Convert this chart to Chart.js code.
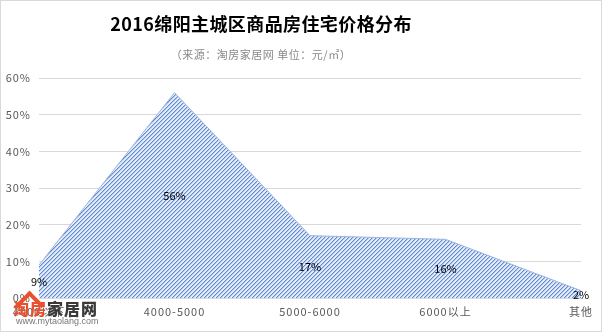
<!DOCTYPE html>
<html>
<head>
<meta charset="utf-8">
<script src="https://cdn.jsdelivr.net/npm/chart.js@4"></script>
<style>
  html, body { margin: 0; padding: 0; background: #fff; }
  #wrap { position: relative; width: 602px; height: 332px; box-sizing: border-box; border: 1px solid #d9d9d9; overflow: hidden; }
  #chart { position: absolute; left: 0; top: 0; }
  .title { position: absolute; left: 0; width: 520px; text-align: center; font-family: "Microsoft YaHei", "Noto Sans CJK SC", sans-serif; }
  #t1 { top: 9px; font-size: 18px; font-weight: bold; color: #000; letter-spacing: 0.4px; }
  #t2 { top: 45px; font-size: 11px; color: #888; letter-spacing: 0.5px; }
  #roof { position: absolute; left: 18px; top: 294px; width: 17px; height: 17px; border-top: 4px solid #e8502e; border-left: 4px solid #e8502e; transform: rotate(45deg); }
  #wm { position: absolute; left: 12px; top: 299px; font-family: "Noto Sans CJK SC", sans-serif; }
  #wm .logo { font-size: 16px; font-weight: 900; line-height: 17px; letter-spacing: 1px; }
  #wm .red { color: #e8502e; }
  #wm .dark { color: #3a3a3a; }
  #wm .url { font-family: "Liberation Sans", sans-serif; font-size: 9px; color: #777; line-height: 9px; margin-left: 3px; }
</style>
</head>
<body>
<div id="wrap">
  <canvas id="chart" width="600" height="330"></canvas>
  <div class="title" id="t1">2016绵阳主城区商品房住宅价格分布</div>
  <div class="title" id="t2">（来源：淘房家居网 单位：元/㎡）</div>
  <div id="roof"></div>
  <div id="wm"><div class="logo"><span class="red">淘房</span><span class="dark">家居网</span></div><div class="url">www.mytaolang.com</div></div>
</div>
<script>
// Data
const categories = ['4000以下', '4000-5000', '5000-6000', '6000以上', '其他'];
const shares = [9, 56, 17, 16, 2];
const yTicks = [0, 10, 20, 30, 40, 50, 60];

// Hatch pattern (upward diagonal)
function makeHatch() {
    const c = document.createElement('canvas');
    c.width = 4; c.height = 4;
    const g = c.getContext('2d');
    g.fillStyle = '#e3ebf8';
    g.fillRect(0, 0, 4, 4);
    for (let i = 0; i < 4; i++) {
        g.fillStyle = '#5e8ad4';
        g.fillRect(3 - i, i, 1, 1);
        g.fillStyle = '#b3c7ea';
        g.fillRect((4 - i) % 4, i, 1, 1);
    }
    return g.createPattern(c, 'repeat');
}

// Labels at half the value height
const midLabels = {
    id: 'midLabels',
    afterDatasetsDraw(chart) {
        const ctx = chart.ctx;
        const meta = chart.getDatasetMeta(0);
        const y = chart.scales.y;
        ctx.save();
        ctx.letterSpacing = '0px';
        ctx.font = '11px "Microsoft YaHei", "Noto Sans CJK SC", sans-serif';
        ctx.fillStyle = '#000';
        ctx.textAlign = 'center';
        ctx.textBaseline = 'middle';
        meta.data.forEach((pt, i) => {
            const v = shares[i];
            ctx.fillText(v + '%', pt.x, y.getPixelForValue(v / 2));
        });
        ctx.restore();
    }
};

const spacing = {
    id: 'spacing',
    beforeDraw(chart) { chart.ctx.letterSpacing = '1px'; }
};

new Chart(document.getElementById('chart'), {
    type: 'line',
    data: {
        labels: categories,
        datasets: [{
            data: shares,
            fill: 'origin',
            backgroundColor: makeHatch(),
            borderColor: '#9db5e0',
            borderWidth: 1,
            pointRadius: 0,
            tension: 0
        }]
    },
    options: {
        responsive: false,
        animation: false,
        layout: { padding: { left: 0, right: 20, top: 77, bottom: 0 } },
        plugins: { legend: { display: false }, tooltip: { enabled: false } },
        scales: {
            x: {
                offset: false,
                grid: { display: false, drawTicks: false },
                border: { color: '#d9d9d9' },
                ticks: {
                    color: '#595959',
                    font: { size: 11, family: '"Microsoft YaHei", "Noto Sans CJK SC", sans-serif' },
                    maxRotation: 0,
                    autoSkip: false,
                    padding: 7
                },
                afterFit(s) { s.height = 33; }
            },
            y: {
                min: 0,
                max: 60,
                afterBuildTicks(s) { s.ticks = yTicks.map(v => ({ value: v })); },
                grid: { color: '#d9d9d9', drawTicks: false },
                border: { display: false },
                ticks: {
                    color: '#595959',
                    font: { size: 11, family: '"Microsoft YaHei", "Noto Sans CJK SC", sans-serif' },
                    padding: 8,
                    callback: v => v + '%'
                },
                afterFit(s) { s.width = 38; }
            }
        }
    },
    plugins: [spacing, midLabels]
});
</script>
</body>
</html>
